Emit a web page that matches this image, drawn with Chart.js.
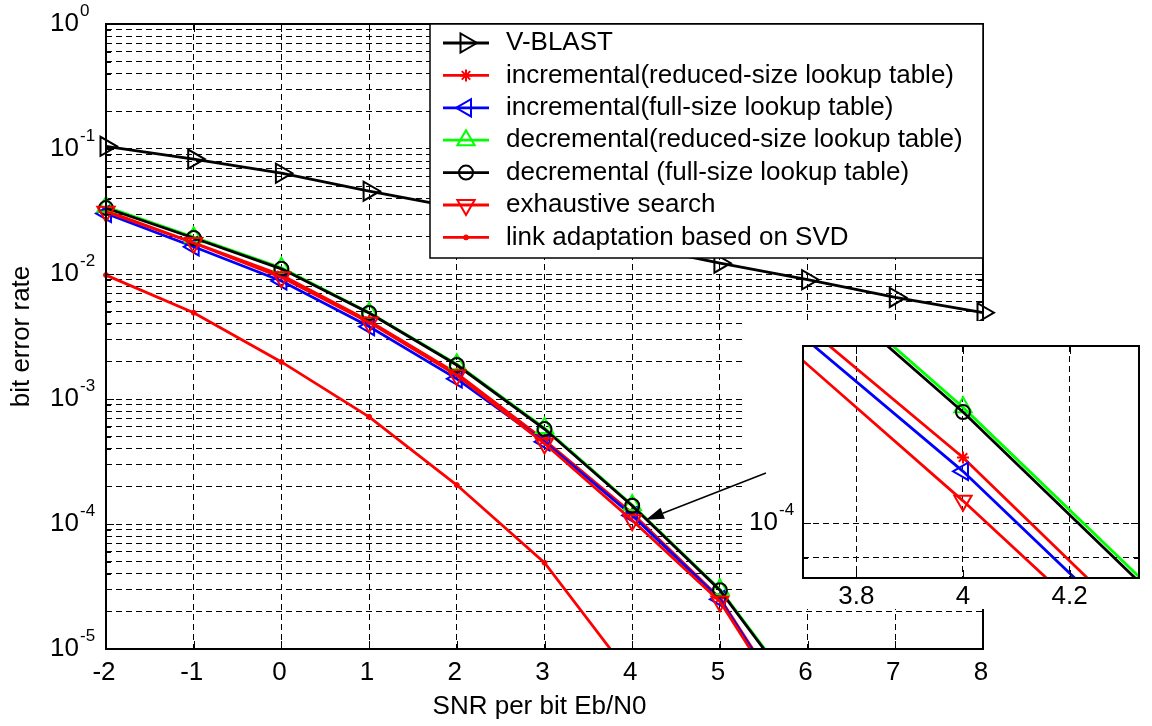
<!DOCTYPE html>
<html>
<head>
<meta charset="utf-8">
<script src="https://cdn.jsdelivr.net/npm/chart.js@4/dist/chart.umd.min.js"></script>
<style>
  html, body { margin: 0; padding: 0; background: #fff; }
  #wrap { position: relative; width: 1152px; height: 726px; overflow: hidden; }
  #main { position: absolute; left: 0; top: 0; }
  #insetBox { position: absolute; left: 745px; top: 321px; width: 407px; height: 288px; background: #fff; }
  #inset { display: block; }
  #overlay { position: absolute; left: 0; top: 0; pointer-events: none; }
</style>
</head>
<body>
<div id="wrap">
  <canvas id="main" width="1152" height="726"></canvas>
  <div id="insetBox"><canvas id="inset" width="407" height="288"></canvas></div>
  <canvas id="overlay" width="1152" height="726"></canvas>
</div>
<script>
const FONT = "'Liberation Sans', Arial, sans-serif";
const TEXT_PX = 26;

// SNR per bit (dB)
const snrVblast = [-2, -1, 0, 1, 2, 3, 4, 5, 6, 7, 8];
const snrLookup = [-2, -1, 0, 1, 2, 3, 4, 5, 6];
const snrSvd = [-2, -1, 0, 1, 2, 3, 4];

// bit error rate (the last points run below 1e-5)
const berVblast = [0.105, 0.083, 0.064, 0.046, 0.034, 0.024, 0.017, 0.0122, 0.0090, 0.0065, 0.0049];
const berIncReduced = [0.0320, 0.0178, 0.0098, 0.0042, 0.0016, 0.00047, 0.000122, 0.0000255, 0.0000021];
const berIncFull = [0.0305, 0.0165, 0.0088, 0.0038, 0.00145, 0.000455, 0.000117, 0.000025, 0.0000020];
const berDecReduced = [0.0345, 0.0197, 0.0112, 0.0049, 0.0019, 0.000585, 0.000142, 0.0000300, 0.0000035];
const berDecFull = [0.0337, 0.0194, 0.0110, 0.00488, 0.00187, 0.000575, 0.000140, 0.0000295, 0.0000034];
const berExhaustive = [0.0315, 0.0177, 0.0094, 0.0041, 0.00155, 0.00044, 0.000107, 0.000024, 0.0000019];
const berSvd = [0.0098, 0.0049, 0.00198, 0.00072, 0.000205, 0.000049, 0.0000059];

// axes
const xTicks = [-2, -1, 0, 1, 2, 3, 4, 5, 6, 7, 8];
const yDecades = [0, -1, -2, -3, -4, -5];
const yMultipliers = [1, 2, 3, 4, 5, 6, 7, 8, 9];
const insetXTicks = [3.8, 4, 4.2];
const insetYTicks = [9e-5, 1e-4];
const insetYDecades = [-4];

// arrow pointing from the inset to the zoomed spot (data coords)
const arrowTail = { x: 5.525, y: 2.56e-4 };
const arrowHead = { x: 4.157, y: 1.08e-4 };

const series = [
  { label: 'V-BLAST', x: snrVblast, y: berVblast, color: '#000000', marker: 'triangle', rotation: 90, radius: 11 },
  { label: 'incremental(reduced-size lookup table)', x: snrLookup, y: berIncReduced, color: '#ff0000', marker: 'star', rotation: 0, radius: 6 },
  { label: 'incremental(full-size lookup table)', x: snrLookup, y: berIncFull, color: '#0000ff', marker: 'triangle', rotation: -90, radius: 10 },
  { label: 'decremental(reduced-size lookup table)', x: snrLookup, y: berDecReduced, color: '#00ff00', marker: 'triangle', rotation: 0, radius: 10 },
  { label: 'decremental (full-size lookup table)', x: snrLookup, y: berDecFull, color: '#000000', marker: 'circle', rotation: 0, radius: 7 },
  { label: 'exhaustive search', x: snrLookup, y: berExhaustive, color: '#ff0000', marker: 'triangle', rotation: 180, radius: 10 },
  { label: 'link adaptation based on SVD', x: snrSvd, y: berSvd, color: '#ff0000', marker: 'circle', rotation: 0, radius: 2.5, filled: true }
];

const yGrid = [];
yDecades.forEach(e => yMultipliers.forEach(m => {
  const v = m * Math.pow(10, e);
  if (v <= 1) yGrid.push(v);
}));

function makeDatasets(inset) {
  return series.map((s, i) => ({
    label: s.label,
    data: s.x.map((x, k) => ({ x: x, y: s.y[k] })),
    borderColor: s.color,
    borderWidth: 2.8,
    pointStyle: s.marker,
    pointRotation: s.rotation,
    pointRadius: s.radius,
    pointBorderColor: s.color,
    pointBackgroundColor: s.filled ? s.color : 'rgba(0,0,0,0)',
    pointBorderWidth: s.filled ? 1 : 2,
    order: series.length - i,
    clip: inset ? 0 : (i === 0 ? false : { left: 20, top: 20, right: 20, bottom: 0 })
  }));
}

function drawMarker(ctx, s, px, py) {
  ctx.strokeStyle = s.color;
  ctx.fillStyle = s.filled ? s.color : 'rgba(0,0,0,0)';
  ctx.lineWidth = s.filled ? 1 : 2;
  Chart.helpers.drawPoint(ctx, {
    pointStyle: s.marker, rotation: s.rotation, radius: s.radius, borderWidth: s.filled ? 1 : 2
  }, px, py);
}

function drawPower(ctx, exp, rightX, py) {
  ctx.fillStyle = '#000';
  ctx.font = TEXT_PX + 'px ' + FONT;
  ctx.textAlign = 'right';
  ctx.textBaseline = 'middle';
  ctx.fillText('10', rightX, py);
  ctx.font = '17px ' + FONT;
  ctx.textAlign = 'left';
  ctx.textBaseline = 'alphabetic';
  ctx.fillText(String(exp), rightX + 1, py - 8);
}

function drawBox(ctx, a, xs, ys, xVals, yVals, yMajor) {
  ctx.strokeStyle = '#000';
  ctx.lineWidth = 2;
  ctx.strokeRect(a.left, a.top, a.right - a.left, a.bottom - a.top);
  ctx.lineWidth = 1;
  ctx.beginPath();
  xVals.forEach(v => {
    const px = Math.round(xs.getPixelForValue(v)) + 0.5;
    ctx.moveTo(px, a.bottom); ctx.lineTo(px, a.bottom - 8);
    ctx.moveTo(px, a.top); ctx.lineTo(px, a.top + 8);
  });
  yVals.forEach(v => {
    const py = Math.round(ys.getPixelForValue(v)) + 0.5;
    const len = yMajor(v) ? 8 : 5;
    ctx.moveTo(a.left, py); ctx.lineTo(a.left + len, py);
    ctx.moveTo(a.right, py); ctx.lineTo(a.right - len, py);
  });
  ctx.stroke();
}

const isDecade = v => Math.abs(Math.log10(v) - Math.round(Math.log10(v))) < 1e-9;

const mainDecor = {
  id: 'mainDecor',
  afterDraw(chart) {
    const { ctx, chartArea: a } = chart;
    const xs = chart.scales.x, ys = chart.scales.y;
    ctx.save();
    drawBox(ctx, a, xs, ys, xTicks, yGrid, isDecade);

    // tick labels
    ctx.fillStyle = '#000';
    ctx.font = TEXT_PX + 'px ' + FONT;
    ctx.textAlign = 'center';
    ctx.textBaseline = 'middle';
    xTicks.forEach(v => ctx.fillText(String(v), xs.getPixelForValue(v) - 2, a.bottom + 24));
    yDecades.forEach(e => drawPower(ctx, e, 79, ys.getPixelForValue(Math.pow(10, e))));

    // axis titles
    ctx.fillStyle = '#000';
    ctx.font = TEXT_PX + 'px ' + FONT;
    ctx.textAlign = 'center';
    ctx.textBaseline = 'middle';
    ctx.fillText('SNR per bit Eb/N0', (a.left + a.right) / 2 - 5, a.bottom + 58);
    ctx.save();
    ctx.translate(22, (a.top + a.bottom) / 2);
    ctx.rotate(-Math.PI / 2);
    ctx.fillText('bit error rate', 0, 0);
    ctx.restore();

    // legend
    const lg = { left: 430, top: a.top, right: a.right, bottom: 258 };
    ctx.fillStyle = '#fff';
    ctx.fillRect(lg.left, lg.top, lg.right - lg.left, lg.bottom - lg.top);
    ctx.strokeStyle = '#000';
    ctx.lineWidth = 1.5;
    ctx.strokeRect(lg.left, lg.top, lg.right - lg.left, lg.bottom - lg.top);
    series.forEach((s, i) => {
      const ry = lg.top + 19 + i * 32.4;
      ctx.strokeStyle = s.color;
      ctx.lineWidth = 2.8;
      ctx.beginPath();
      ctx.moveTo(lg.left + 13, ry); ctx.lineTo(lg.left + 59, ry);
      ctx.stroke();
      drawMarker(ctx, s, lg.left + 36, ry);
      ctx.fillStyle = '#000';
      ctx.font = TEXT_PX + 'px ' + FONT;
      ctx.textAlign = 'left';
      ctx.textBaseline = 'middle';
      ctx.fillText(s.label, lg.left + 76, ry);
    });
    ctx.restore();

    // arrow on the top layer
    const octx = document.getElementById('overlay').getContext('2d');
    const x0 = xs.getPixelForValue(arrowTail.x), y0 = ys.getPixelForValue(arrowTail.y);
    const x1 = xs.getPixelForValue(arrowHead.x), y1 = ys.getPixelForValue(arrowHead.y);
    const ang = Math.atan2(y1 - y0, x1 - x0);
    const hl = 18, hw = 6;
    const bx = x1 - hl * Math.cos(ang), by = y1 - hl * Math.sin(ang);
    octx.clearRect(0, 0, 1152, 726);
    octx.strokeStyle = '#000';
    octx.fillStyle = '#000';
    octx.lineWidth = 1.5;
    octx.beginPath();
    octx.moveTo(x0, y0); octx.lineTo(bx, by);
    octx.stroke();
    octx.beginPath();
    octx.moveTo(x1, y1);
    octx.lineTo(bx + hw * Math.sin(ang), by - hw * Math.cos(ang));
    octx.lineTo(bx - hw * Math.sin(ang), by + hw * Math.cos(ang));
    octx.closePath();
    octx.fill();
  }
};

const insetDecor = {
  id: 'insetDecor',
  afterDraw(chart) {
    const { ctx, chartArea: a } = chart;
    const xs = chart.scales.x, ys = chart.scales.y;
    ctx.save();
    drawBox(ctx, a, xs, ys, insetXTicks, insetYTicks, isDecade);
    ctx.fillStyle = '#000';
    ctx.font = TEXT_PX + 'px ' + FONT;
    ctx.textAlign = 'center';
    ctx.textBaseline = 'middle';
    insetXTicks.forEach(v => ctx.fillText(String(v), xs.getPixelForValue(v), a.bottom + 19));
    insetYDecades.forEach(e => drawPower(ctx, e, 33, ys.getPixelForValue(Math.pow(10, e))));
    ctx.restore();
  }
};

function gridScale(extra) {
  return Object.assign({
    ticks: { display: false },
    grid: { color: '#000', lineWidth: 1, drawTicks: false },
    border: { display: false, dash: [6, 4] }
  }, extra);
}

const baseOptions = {
  responsive: false,
  animation: false,
  devicePixelRatio: 1,
  events: [],
  plugins: { legend: { display: false }, tooltip: { enabled: false } },
  elements: { line: { tension: 0 } }
};

new Chart(document.getElementById('main'), {
  type: 'line',
  data: { datasets: makeDatasets(false) },
  options: Object.assign({}, baseOptions, {
    layout: { padding: { left: 0, top: 24, right: 169, bottom: 0 } },
    scales: {
      x: gridScale({
        type: 'linear', min: -2, max: 8,
        afterBuildTicks: ax => { ax.ticks = xTicks.map(v => ({ value: v })); },
        afterFit: ax => { ax.height = 77; }
      }),
      y: gridScale({
        type: 'logarithmic', min: 1e-5, max: 1,
        afterBuildTicks: ax => { ax.ticks = yGrid.map(v => ({ value: v })); },
        afterFit: ax => { ax.width = 106; }
      })
    }
  }),
  plugins: [mainDecor]
});

new Chart(document.getElementById('inset'), {
  type: 'line',
  data: { datasets: makeDatasets(true) },
  options: Object.assign({}, baseOptions, {
    layout: { padding: { left: 0, top: 25, right: 9, bottom: 0 } },
    scales: {
      x: gridScale({
        type: 'linear', min: 3.7, max: 4.33,
        afterBuildTicks: ax => { ax.ticks = insetXTicks.map(v => ({ value: v })); },
        afterFit: ax => { ax.height = 31; }
      }),
      y: gridScale({
        type: 'logarithmic', min: 8.47e-5, max: 1.71e-4,
        afterBuildTicks: ax => { ax.ticks = insetYTicks.map(v => ({ value: v })); },
        afterFit: ax => { ax.width = 58; }
      })
    }
  }),
  plugins: [insetDecor]
});
</script>
</body>
</html>
